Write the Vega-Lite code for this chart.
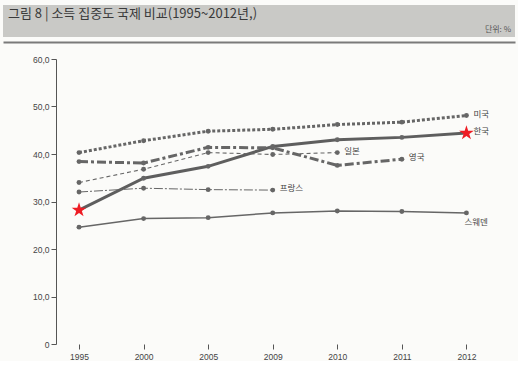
{
  "$schema": "https://vega.github.io/schema/vega-lite/v6.json",
  "background": "#fbfbf9",
  "padding": {"left": 3, "top": 5, "right": 3, "bottom": 0},
  "config": {"view": {"stroke": null}, "font": "Noto Sans CJK KR"},
  "datasets": {
    "header": [
      {"part": "title", "label": "그림 8 | 소득 집중도 국제 비교(1995~2012년,)", "px": 0, "py": 0.72},
      {"part": "unit", "label": "단위: %", "px": 1, "py": 0.22}
    ],
    "series": [
      {"country": "미국", "year": "1995", "value": 40.3},
      {"country": "미국", "year": "2000", "value": 42.8},
      {"country": "미국", "year": "2005", "value": 44.8},
      {"country": "미국", "year": "2009", "value": 45.2},
      {"country": "미국", "year": "2010", "value": 46.2},
      {"country": "미국", "year": "2011", "value": 46.7},
      {"country": "미국", "year": "2012", "value": 48.1},
      {"country": "한국", "year": "1995", "value": 28.2},
      {"country": "한국", "year": "2000", "value": 34.9},
      {"country": "한국", "year": "2005", "value": 37.4},
      {"country": "한국", "year": "2009", "value": 41.6},
      {"country": "한국", "year": "2010", "value": 43.0},
      {"country": "한국", "year": "2011", "value": 43.5},
      {"country": "한국", "year": "2012", "value": 44.4},
      {"country": "영국", "year": "1995", "value": 38.4},
      {"country": "영국", "year": "2000", "value": 38.1},
      {"country": "영국", "year": "2005", "value": 41.4},
      {"country": "영국", "year": "2009", "value": 41.3},
      {"country": "영국", "year": "2010", "value": 37.6},
      {"country": "영국", "year": "2011", "value": 38.9},
      {"country": "일본", "year": "1995", "value": 34.0},
      {"country": "일본", "year": "2000", "value": 36.8},
      {"country": "일본", "year": "2005", "value": 40.3},
      {"country": "일본", "year": "2009", "value": 39.9},
      {"country": "일본", "year": "2010", "value": 40.3},
      {"country": "프랑스", "year": "1995", "value": 32.0},
      {"country": "프랑스", "year": "2000", "value": 32.8},
      {"country": "프랑스", "year": "2005", "value": 32.5},
      {"country": "프랑스", "year": "2009", "value": 32.4},
      {"country": "스웨덴", "year": "1995", "value": 24.6},
      {"country": "스웨덴", "year": "2000", "value": 26.4},
      {"country": "스웨덴", "year": "2005", "value": 26.6},
      {"country": "스웨덴", "year": "2009", "value": 27.6},
      {"country": "스웨덴", "year": "2010", "value": 28.0},
      {"country": "스웨덴", "year": "2011", "value": 27.9},
      {"country": "스웨덴", "year": "2012", "value": 27.6}
    ]
  },
  "vconcat": [
    {
      "width": 512,
      "height": 32,
      "view": {"fill": "#c9c9c6", "stroke": null},
      "data": {"name": "header"},
      "encoding": {
        "x": {"field": "px", "type": "quantitative", "scale": {"domain": [0, 1]},
              "axis": {"labels": false, "ticks": false, "grid": false, "title": null, "offset": 5, "domainColor": "#7a7a7a", "domainWidth": 2}},
        "y": {"field": "py", "type": "quantitative", "scale": {"domain": [0, 1]}, "axis": null},
        "text": {"field": "label"}
      },
      "layer": [
        {"transform": [{"filter": "datum.part == 'title'"}],
         "mark": {"type": "text", "align": "left", "baseline": "middle", "dx": 5, "fontSize": 13, "color": "#3a3a3a"}},
        {"transform": [{"filter": "datum.part == 'unit'"}],
         "mark": {"type": "text", "align": "right", "baseline": "middle", "dx": -4, "fontSize": 8, "color": "#555"}}
      ]
    },
    {
      "width": 485,
      "height": 285,
      "data": {"name": "series"},
      "encoding": {
        "x": {"field": "year", "type": "ordinal", "scale": {"type": "point", "padding": 0.7557, "align": 0.779},
              "axis": {"labelAngle": 0, "title": null, "domain": false, "tickColor": "#555", "labelColor": "#444", "labelFontSize": 8.5, "labelFont": "Liberation Sans", "tickSize": 5, "labelPadding": 3}},
        "y": {"field": "value", "type": "quantitative", "scale": {"domain": [0, 60]},
              "axis": {"offset": -53, "values": [0, 10, 20, 30, 40, 50, 60], "labelExpr": "datum.value == 0 ? '0' : replace(format(datum.value, '.1f'), '.', ',')", "title": null, "grid": false, "domainColor": "#555", "tickColor": "#555", "labelColor": "#444", "labelFontSize": 8.5, "labelFont": "Liberation Sans", "tickSize": 5, "labelPadding": 2}}
      },
      "layer": [
        {
          "data": {"values": [{}]},
          "mark": {"type": "rule", "color": "#555", "strokeWidth": 1, "xOffset": -23, "x2Offset": 22},
          "encoding": {"x": {"datum": "1995"}, "x2": {"datum": "2012"}, "y": {"datum": 0}}
        },
        {
          "transform": [{"filter": "datum.country == '미국'"}],
          "mark": {"type": "line", "color": "#666", "strokeWidth": 3, "strokeDash": [3, 2]}
        },
        {
          "transform": [{"filter": "datum.country == '한국'"}],
          "mark": {"type": "line", "color": "#5e5e5e", "strokeWidth": 3}
        },
        {
          "transform": [{"filter": "datum.country == '영국'"}],
          "mark": {"type": "line", "color": "#666", "strokeWidth": 3, "strokeDash": [9, 3, 3, 3]}
        },
        {
          "transform": [{"filter": "datum.country == '일본'"}],
          "mark": {"type": "line", "color": "#666", "strokeWidth": 1.1, "strokeDash": [4, 3]}
        },
        {
          "transform": [{"filter": "datum.country == '프랑스'"}],
          "mark": {"type": "line", "color": "#666", "strokeWidth": 1, "strokeDash": [9, 2, 2, 2]}
        },
        {
          "transform": [{"filter": "datum.country == '스웨덴'"}],
          "mark": {"type": "line", "color": "#666", "strokeWidth": 1.5}
        },
        {
          "transform": [{"filter": "!(datum.country == '한국' && (datum.year == '1995' || datum.year == '2012'))"}],
          "mark": {"type": "circle", "color": "#666", "opacity": 1, "size": 24}
        },
        {
          "transform": [{"filter": "datum.country == '한국' && (datum.year == '1995' || datum.year == '2012')"}],
          "mark": {"type": "point", "filled": true, "color": "#ee1c24", "opacity": 1, "size": 240,
                   "shape": "M0,-1L0.2245,-0.309L0.951,-0.309L0.363,0.118L0.588,0.809L0,0.382L-0.588,0.809L-0.363,0.118L-0.951,-0.309L-0.2245,-0.309Z"}
        },
        {
          "transform": [
            {"joinaggregate": [{"op": "max", "field": "year", "as": "lastYear"}], "groupby": ["country"]},
            {"filter": "datum.year == datum.lastYear && datum.country != '스웨덴'"}
          ],
          "mark": {"type": "text", "align": "left", "baseline": "middle", "dx": 7, "dy": -2, "fontSize": 8.5, "color": "#444"},
          "encoding": {"text": {"field": "country"}}
        },
        {
          "transform": [
            {"joinaggregate": [{"op": "max", "field": "year", "as": "lastYear"}], "groupby": ["country"]},
            {"filter": "datum.year == datum.lastYear && datum.country == '스웨덴'"}
          ],
          "mark": {"type": "text", "align": "left", "baseline": "top", "dx": -2, "dy": 5, "fontSize": 8.5, "color": "#444"},
          "encoding": {"text": {"field": "country"}}
        }
      ]
    }
  ],
  "spacing": 13
}
